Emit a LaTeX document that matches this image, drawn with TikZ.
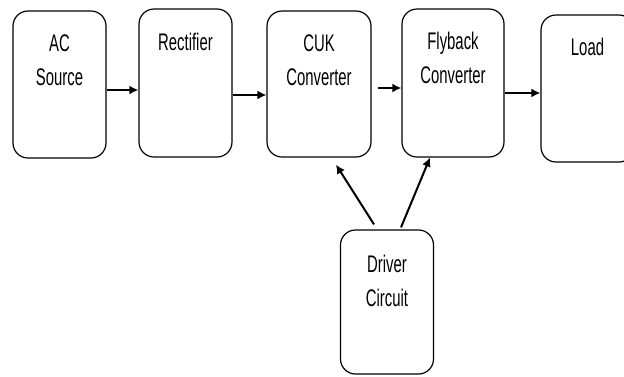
\documentclass[tikz,border=0pt]{standalone}
\usepackage{fontspec}
\setmainfont[FakeStretch=0.62]{Liberation Sans}
\usepackage{tikz}
\usetikzlibrary{arrows.meta}
\tikzstyle{blok}=[draw=black,line width=1.2pt,rounded corners=15pt,minimum width=93pt,minimum height=147pt]
\tikzstyle{caption}=[anchor=north,inner sep=0pt,align=center,font=\fontsize{24}{34}\selectfont]
\tikzstyle{flow}=[line width=2pt,-{Latex[length=9pt,width=9pt]}]

\begin{document}
\begin{tikzpicture}[x=1pt,y=-1pt]
\useasboundingbox (0,0) rectangle (624,376);
% blocks
\node[blok] (src) at (59.5,84.5) {};
\node[blok,minimum height=148pt] (rect) at (185.5,83) {};
\node[blok,minimum width=104pt,minimum height=146pt] (cuk) at (319,84) {};
\node[blok,minimum width=102pt,minimum height=148pt] (fly) at (453,83) {};
\node[blok] (load) at (587.5,88.5) {};
\node[blok,minimum height=144pt] (drv) at (387,302) {};
% texts
\node[caption] (srctext) at ([yshift=-24pt]src.north) {AC\\Source};
\node[caption] (recttext) at ([yshift=-25pt]rect.north) {Rectifier};
\node[caption] (cuktext) at ([yshift=-24pt]cuk.north) {CUK\\Converter};
\node[caption] (flytext) at ([yshift=-24pt]fly.north) {Flyback\\Converter};
\node[caption] (loadtext) at ([yshift=-24pt]load.north) {Load};
\node[caption] (drvtext) at ([yshift=-26pt]drv.north) {Driver\\Circuit};
% connectors
\draw[flow] ([yshift=-5.5pt]src.east) -- ([yshift=-5.5pt]src.east -| rect.west);
\draw[flow] ([yshift=-12pt]rect.east) -- ([yshift=-12pt]rect.east -| cuk.west);
\draw[flow,shorten <=6pt] ([yshift=-4pt]cuk.east) -- ([yshift=-4pt]cuk.east -| fly.west);
\draw[flow] ([yshift=-10pt]fly.east) -- ([yshift=-10pt]fly.east -| load.west);
\draw[flow] ([xshift=-13pt,yshift=5pt]drv.north) -- ([xshift=17pt,yshift=-7pt]cuk.south);
\draw[flow] ([xshift=14pt,yshift=2pt]drv.north) -- ([xshift=-23pt]fly.south);
\end{tikzpicture}
\end{document}
